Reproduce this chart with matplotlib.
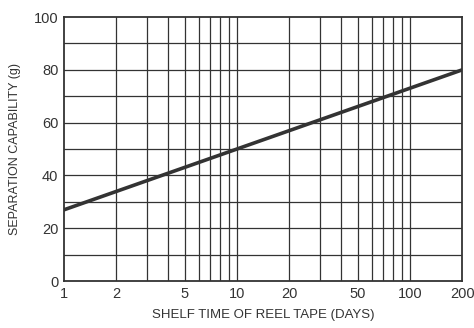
import matplotlib
matplotlib.use("Agg")
import matplotlib.pyplot as plt
from matplotlib.ticker import FixedLocator, NullFormatter

plt.rcParams["font.family"] = ["Liberation Sans", "DejaVu Sans"]

# shelf time (days) vs separation capability (g)
days = [1, 200]
capability = [27, 80]

xticks = [1, 2, 5, 10, 20, 50, 100, 200]
xgrid = [2, 3, 4, 5, 6, 7, 8, 9, 10, 20, 30, 40, 50, 60, 70, 80, 90, 100]
yticks = [0, 20, 40, 60, 80, 100]

fig = plt.figure(figsize=(4.74, 3.28), dpi=100)
ax = fig.add_axes([0.135, 0.143, 0.84, 0.805])

ax.set_xscale("log")
ax.set_xlim(1, 200)
ax.set_ylim(0, 100)

ax.xaxis.set_major_locator(FixedLocator(xticks))
ax.xaxis.set_minor_locator(FixedLocator(xgrid))
ax.xaxis.set_minor_formatter(NullFormatter())
ax.set_xticklabels([str(t) for t in xticks])
ax.set_yticks(yticks)

for x in xgrid:
    ax.axvline(x, color="#333333", lw=0.9, zorder=1)
for y in range(10, 100, 10):
    ax.axhline(y, color="#333333", lw=0.9, zorder=1)

ax.plot(days, capability, color="#333333", lw=2.6, zorder=3)

ax.tick_params(which="both", length=0, labelsize=10.5, colors="#333333", pad=4)
for s in ax.spines.values():
    s.set_color("#333333")
    s.set_linewidth(1.3)

ax.set_xlabel("SHELF TIME OF REEL TAPE (DAYS)", fontsize=9.5, color="#333333", labelpad=6)
ax.set_ylabel("SEPARATION CAPABILITY (g)", fontsize=9, color="#333333", labelpad=9)

fig.savefig("out.png", dpi=100, facecolor="white")
